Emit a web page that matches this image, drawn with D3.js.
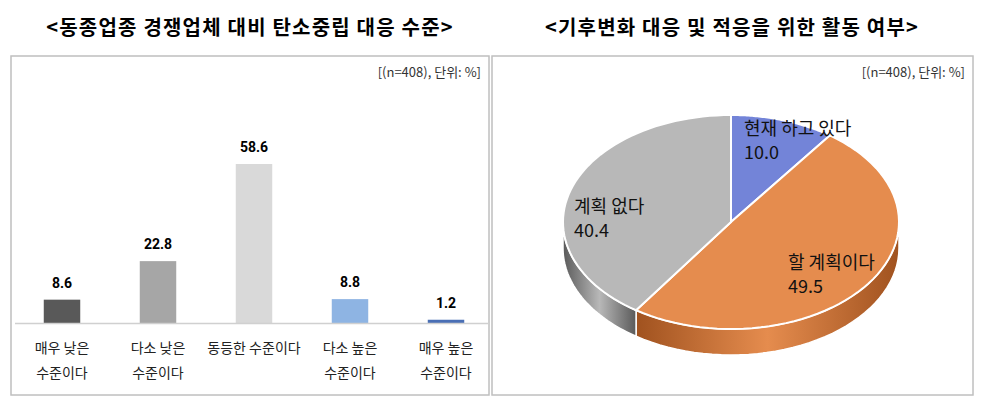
<!DOCTYPE html>
<html><head><meta charset="utf-8">
<script src="https://cdn.jsdelivr.net/npm/d3@7"></script>
<style>body{margin:0;background:#fff;font-family:"Noto Sans CJK KR",sans-serif}</style>
</head><body><div id="chart"></div>
<script>
// bar chart data
const barCats = [["매우 낮은", "수준이다"], ["다소 낮은", "수준이다"], ["동등한 수준이다"], ["다소 높은", "수준이다"], ["매우 높은", "수준이다"]];
const barValues = [8.6, 22.8, 58.6, 8.8, 1.2];
const barColors = ["#595959", "#a6a6a6", "#d9d9d9", "#8eb4e3", "#4a6fb5"];

// pie data
const pieCats = ["현재 하고 있다", "할 계획이다", "계획 없다"];
const pieValues = [10.0, 49.5, 40.4];
const pieColors = ["#7384d8", "#e58c4e", "#b8b8b8"];
const sideColors = ["#3e4a8a", "#a0521f", "#5a5a5a"];

const svg = d3.select("#chart").append("svg").attr("width", 985).attr("height", 404);

// titles
svg.append("text").attr("x", 250).attr("y", 35).attr("text-anchor", "middle")
    .attr("font-size", 20).attr("letter-spacing", 1.2).attr("font-weight", "bold").text("<동종업종 경쟁업체 대비 탄소중립 대응 수준>");
svg.append("text").attr("x", 732).attr("y", 35).attr("text-anchor", "middle")
    .attr("font-size", 20).attr("letter-spacing", 1.2).attr("font-weight", "bold").text("<기후변화 대응 및 적응을 위한 활동 여부>");

// panels
[[11, 478], [492, 481]].forEach(([x, w]) => {
    svg.append("rect").attr("x", x).attr("y", 56).attr("width", w).attr("height", 339)
        .attr("fill", "none").attr("stroke", "#bfbfbf").attr("stroke-width", 1.5);
    svg.append("text").attr("x", x + w - 8).attr("y", 77).attr("text-anchor", "end")
        .attr("font-size", 13).attr("fill", "#333").text("[(n=408),  단위:  %]");
});

// ---- bar chart ----
const x = d3.scaleBand().domain(d3.range(barValues.length)).range([14, 494]).paddingInner(0.62).paddingOuter(0.31);
const y = d3.scaleLinear().domain([0, 58.6]).range([323, 164]);

const g = svg.append("g");
g.selectAll("rect.bar").data(barValues).join("rect").attr("class", "bar")
    .attr("x", (d, i) => x(i)).attr("width", x.bandwidth())
    .attr("y", d => y(d)).attr("height", d => y(0) - y(d))
    .attr("fill", (d, i) => barColors[i]);
g.append("line").attr("x1", 15).attr("x2", 489).attr("y1", y(0) + 0.5).attr("y2", y(0) + 0.5)
    .attr("stroke", "#d0d0d0").attr("stroke-width", 1.5);
g.selectAll("text.val").data(barValues).join("text").attr("class", "val")
    .attr("x", (d, i) => x(i) + x.bandwidth() / 2).attr("y", d => y(d) - 12)
    .attr("text-anchor", "middle").attr("font-size", 14).attr("font-weight", "bold")
    .attr("font-family", "'Liberation Sans Narrow','Roboto',sans-serif")
    .text(d => d.toFixed(1));
barCats.forEach((lines, i) => {
    lines.forEach((t, j) => {
        g.append("text").attr("x", x(i) + x.bandwidth() / 2).attr("y", 353 + j * 25)
            .attr("text-anchor", "middle").attr("font-size", 14).attr("fill", "#222").text(t);
    });
});

// ---- pie chart ----
const cx = 731, cy = 222, rx = 168, ry = 107, depth = 26;
const arcs = d3.pie().sort(null)(pieValues);
const pt = (a, dy) => [cx + rx * Math.sin(a), cy - ry * Math.cos(a) + dy];

const pg = svg.append("g");
// side walls (front half only)
arcs.forEach((a, i) => {
    const s = Math.max(a.startAngle, Math.PI / 2), e = Math.min(a.endAngle, Math.PI * 3 / 2);
    if (e <= s) return;
    const n = 40, top = [], bot = [];
    for (let k = 0; k <= n; k++) {
        const t = s + (e - s) * k / n;
        top.push(pt(t, 0)); bot.push(pt(t, depth));
    }
    const pts = top.concat(bot.reverse());
    const gid = "side" + i;
    const grad = svg.append("defs").append("linearGradient").attr("id", gid);
    grad.append("stop").attr("offset", "0%").attr("stop-color", sideColors[i]);
    grad.append("stop").attr("offset", "50%").attr("stop-color", pieColors[i]);
    grad.append("stop").attr("offset", "100%").attr("stop-color", sideColors[i]);
    pg.append("path").attr("d", d3.line()(pts) + "Z").attr("fill", `url(#${gid})`)
        .attr("stroke", "#fff").attr("stroke-width", 1.5);
});
// top faces
arcs.forEach((a, i) => {
    const n = 60, pts = [[cx, cy]];
    for (let k = 0; k <= n; k++) pts.push(pt(a.startAngle + (a.endAngle - a.startAngle) * k / n, 0));
    pg.append("path").attr("d", d3.line()(pts) + "Z").attr("fill", pieColors[i])
        .attr("stroke", "#fff").attr("stroke-width", 2);
});
// labels
const labelPos = [[744, 135], [788, 269], [574, 213]];
arcs.forEach((a, i) => {
    const [lx, ly] = labelPos[i];
    pg.append("text").attr("x", lx).attr("y", ly).attr("font-size", 18).attr("fill", "#111").text(pieCats[i]);
    pg.append("text").attr("x", lx).attr("y", ly + 24).attr("font-size", 18).attr("fill", "#111").text(pieValues[i].toFixed(1));
});
</script></body></html>
